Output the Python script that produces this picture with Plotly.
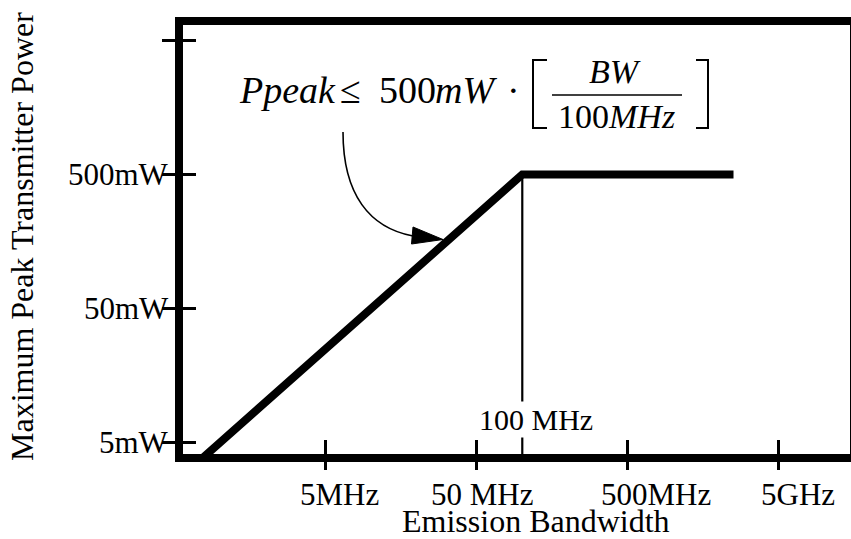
import math
import plotly.graph_objects as go

# ---------------- data ----------------
bw_mhz = [0.7, 100, 2500]          # emission bandwidth (MHz)
peak_mw = [3.5, 500, 500]          # maximum peak transmitter power (mW)
limit_bw = [100, 100]              # 100 MHz marker line
limit_mw = [500, 3]
x_tick_vals = [5, 50, 500, 5000]
x_tick_text = ["5MHz", "50 MHz", "500MHz", "5GHz"]
y_tick_vals = [5, 50, 500, 5000]
y_tick_text = ["5mW", "50mW", "500mW", ""]
marker_label = "100 MHz"

# ---------------- layout helpers ----------------
W, H = 851, 539
L, R, T, B = 183, 850, 25, 454
FONT = "Liberation Serif"


def px(x):
    return (x - L) / (R - L)


def py(y):
    return (B - y) / (B - T)


def path(points, close=False):
    s = "M" + " L".join(f"{px(a):.5f},{py(b):.5f}" for a, b in points)
    return s + (" Z" if close else "")


XRANGE = [-0.2454, 4.1689]
YRANGE = [0.6132, 3.8147]

fig = go.Figure()
fig.add_trace(go.Scatter(x=bw_mhz, y=peak_mw, mode="lines",
                         line=dict(color="black", width=8), hoverinfo="skip"))
fig.add_trace(go.Scatter(x=limit_bw, y=limit_mw, mode="lines",
                         line=dict(color="black", width=2.2), hoverinfo="skip"))
fig.add_trace(go.Scatter(x=[10], y=[10], xaxis="x2", yaxis="y2", mode="markers",
                         marker=dict(opacity=0), hoverinfo="skip"))

ann = []
# y tick labels
for v, t in zip(y_tick_vals, y_tick_text):
    if t:
        ann.append(dict(x=0, xref="paper", y=math.log10(v), yref="y", text=t,
                        xanchor="right", yanchor="middle", xshift=-12, showarrow=False,
                        font=dict(family=FONT, size=31, color="black")))
# x tick labels
X_NUDGE = [14, 5, 28, 19]
for v, t, n in zip(x_tick_vals, x_tick_text, X_NUDGE):
    ann.append(dict(x=math.log10(v), xref="x", y=py(494), yref="paper", text=t,
                    xanchor="center", yanchor="middle", xshift=n, showarrow=False,
                    font=dict(family=FONT, size=31, color="black")))
# axis titles
ann.append(dict(x=px(536), y=py(521), xref="paper", yref="paper", text="Emission Bandwidth",
                showarrow=False, xanchor="center", yanchor="middle",
                font=dict(family=FONT, size=32, color="black")))
ann.append(dict(x=px(22), y=py(237), xref="paper", yref="paper",
                text="Maximum Peak Transmitter Power", textangle=-90,
                showarrow=False, xanchor="center", yanchor="middle",
                font=dict(family=FONT, size=32, color="black")))
# 100 MHz label
ann.append(dict(x=math.log10(limit_bw[0]), xref="x", y=py(419), yref="paper",
                text=marker_label, xshift=14, showarrow=False, bgcolor="white",
                xanchor="center", yanchor="middle", borderpad=1,
                font=dict(family=FONT, size=30, color="black")))
# formula
F38 = dict(family=FONT, size=38, color="black")
F34 = dict(family=FONT, size=34, color="black")
ann += [
    dict(x=px(237), y=py(90), text="<i>Ppeak</i>", xanchor="left", font=F38),
    dict(x=px(350), y=py(90), text="≤", xanchor="center", font=F38),
    dict(x=px(377), y=py(90), text="500", xanchor="left", font=F38),
    dict(x=px(433), y=py(90), text="<i>mW</i>", xanchor="left", font=F38),
    dict(x=px(513), y=py(90), text="·", xanchor="center", font=F38),
    dict(x=px(615), y=py(72), text="<i>BW</i>", xanchor="center", font=F34),
    dict(x=px(616), y=py(116), text="100<i>MHz</i>", xanchor="center", font=F34),
]
for a in ann[-7:]:
    a.update(xref="paper", yref="paper", yanchor="middle", showarrow=False)

shapes = [
    # fraction bar
    dict(type="line", xref="paper", yref="paper", x0=px(552), y0=py(95), x1=px(682), y1=py(95),
         line=dict(color="black", width=1.5)),
    # brackets
    dict(type="path", xref="paper", yref="paper",
         path=path([(547, 60), (533, 60), (533, 128), (547, 128)]),
         line=dict(color="black", width=2)),
    dict(type="path", xref="paper", yref="paper",
         path=path([(696, 60), (708, 60), (708, 128), (696, 128)]),
         line=dict(color="black", width=2)),
    # curved arrow
    dict(type="path", xref="paper", yref="paper",
         path=f"M{px(343):.5f},{py(132):.5f} C{px(343):.5f},{py(195):.5f} "
              f"{px(370):.5f},{py(228):.5f} {px(413):.5f},{py(236):.5f}",
         line=dict(color="black", width=1.6)),
    dict(type="path", xref="paper", yref="paper",
         path=path([(443, 239.5), (413, 227), (411.5, 244)], close=True),
         fillcolor="black", line=dict(color="black", width=1)),
]

common_axis = dict(showgrid=False, zeroline=False, showticklabels=False,
                   tickcolor="black", tickwidth=2.5, automargin=False)

fig.update_layout(
    width=W, height=H, autosize=False,
    margin=dict(l=L, r=W - R, t=T, b=H - B, pad=0, autoexpand=False),
    plot_bgcolor="white", paper_bgcolor="white",
    showlegend=False,
    xaxis=dict(type="log", range=XRANGE, showline=True, linewidth=8, linecolor="black",
               mirror=True, ticks="outside", ticklen=8, tickvals=x_tick_vals, **common_axis),
    yaxis=dict(type="log", range=YRANGE, showline=True, linewidth=8, linecolor="black",
               mirror=True, ticks="outside", ticklen=13, tickvals=y_tick_vals, **common_axis),
    xaxis2=dict(type="log", range=XRANGE, overlaying="x", anchor="y2", showline=False,
                ticks="inside", ticklen=14, tickvals=x_tick_vals, **common_axis),
    yaxis2=dict(type="log", range=YRANGE, overlaying="y", anchor="x2", side="left",
                showline=False, ticks="inside", ticklen=13, tickvals=y_tick_vals, **common_axis),
    annotations=ann,
    shapes=shapes,
)

fig.write_html("out.html", config={"displayModeBar": False},
               post_script="document.body.style.margin='0';")
